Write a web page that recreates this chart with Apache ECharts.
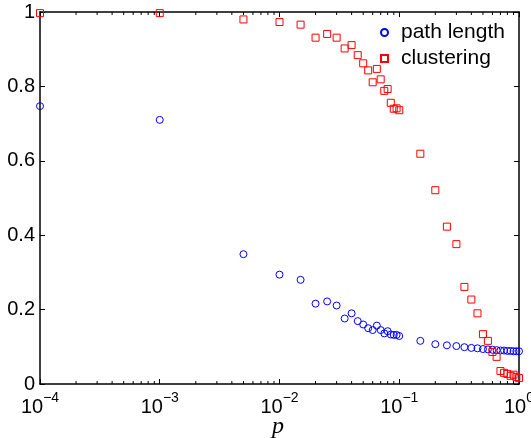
<!DOCTYPE html>
<html>
<head>
<meta charset="utf-8">
<script src="https://cdn.jsdelivr.net/npm/echarts@6/dist/echarts.min.js"></script>
<style>html,body{margin:0;padding:0;background:#fff}#c{width:531px;height:438px}</style>
</head>
<body>
<div id="c"></div>
<script>
var pValues = [0.0001, 0.001, 0.005, 0.01, 0.015, 0.02, 0.025, 0.03, 0.035, 0.04, 0.045, 0.05, 0.055, 0.06, 0.065, 0.07, 0.075, 0.08, 0.085, 0.09, 0.095, 0.1, 0.15, 0.2, 0.25, 0.3, 0.35, 0.4, 0.45, 0.5, 0.55, 0.6, 0.65, 0.7, 0.75, 0.8, 0.85, 0.9, 0.95, 1.0];
var pathLength = [0.747, 0.710, 0.349, 0.294, 0.280, 0.216, 0.222, 0.211, 0.176, 0.190, 0.169, 0.160, 0.150, 0.145, 0.157, 0.145, 0.136, 0.142, 0.133, 0.132, 0.132, 0.129, 0.116, 0.107, 0.104, 0.102, 0.099, 0.097, 0.096, 0.094, 0.093, 0.092, 0.091, 0.090, 0.090, 0.089, 0.089, 0.088, 0.088, 0.088];
var clustering = [0.997, 0.997, 0.980, 0.973, 0.966, 0.931, 0.941, 0.931, 0.902, 0.911, 0.884, 0.862, 0.843, 0.811, 0.847, 0.819, 0.788, 0.793, 0.756, 0.740, 0.741, 0.736, 0.619, 0.521, 0.423, 0.376, 0.261, 0.227, 0.190, 0.134, 0.116, 0.086, 0.073, 0.035, 0.030, 0.027, 0.022, 0.025, 0.019, 0.016];
var yTicks = [0, 0.2, 0.4, 0.6, 0.8, 1];
var seriesNames = ['path length', 'clustering'];
var xAxisTitle = 'p';

var minorX = [];
[-4, -3, -2, -1].forEach(function (e) {
  for (var m = 2; m <= 9; m++) minorX.push(m * Math.pow(10, e));
});

function pairs(xs, ys) { return xs.map(function (x, i) { return [x, ys[i]]; }); }

var FONT = 'Liberation Sans';
function axisCommon() {
  return {
    axisLine: { show: true, onZero: false, lineStyle: { color: '#000', width: 1.5 } },
    axisTick: { show: true, inside: true, length: 5, lineStyle: { color: '#000', width: 1 } },
    splitLine: { show: false }
  };
}

var chart = echarts.init(document.getElementById('c'), null, { renderer: 'canvas' });
chart.setOption({
  animation: false,
  backgroundColor: '#fff',
  grid: { left: 40, right: 12, top: 12, bottom: 54, containLabel: false, outerBoundsMode: 'none' },
  legend: {
    data: [
      { name: seriesNames[0], icon: 'circle' },
      { name: seriesNames[1], icon: 'rect' }
    ],
    orient: 'vertical',
    left: 375,
    top: 17,
    itemWidth: 7,
    itemHeight: 7,
    itemGap: 5,
    textStyle: { fontFamily: FONT, fontSize: 21, color: '#000', lineHeight: 20, padding: [0, 0, 0, 8] }
  },
  graphic: [{
    type: 'text', left: 272, top: 415, silent: true,
    style: { text: xAxisTitle, font: 'italic 24px "Liberation Serif"', fill: '#000' }
  }],
  xAxis: [
    Object.assign({
      type: 'log', logBase: 10, min: 0.0001, max: 1, position: 'bottom',
      axisLabel: {
        show: true, margin: 3, color: '#000',
        formatter: function (v) {
          var e = Math.round(Math.log10(v));
          var s = e < 0 ? '\u2212' + (-e) : String(e);
          return '{b|10}{s|' + s + '}';
        },
        rich: {
          b: { fontFamily: FONT, fontSize: 20, color: '#000', padding: [10, 0, 0, 0] },
          s: { fontFamily: FONT, fontSize: 14, color: '#000', padding: [0, 0, 7, 0] }
        }
      }
    }, axisCommon()),
    Object.assign({
      type: 'log', logBase: 10, min: 0.0001, max: 1, position: 'top',
      axisLabel: { show: false }
    }, axisCommon())
  ],
  yAxis: [
    Object.assign({
      type: 'value', min: 0, max: 1, interval: 0.2, position: 'left',
      axisLabel: {
        show: true, margin: 5, color: '#000', fontFamily: FONT, fontSize: 20,
        formatter: function (v) { return String(Math.round(v * 10) / 10); }
      }
    }, axisCommon()),
    Object.assign({
      type: 'value', min: 0, max: 1, interval: 0.2, position: 'right',
      axisLabel: { show: false }
    }, axisCommon())
  ],
  series: [
    {
      name: 'minor', type: 'custom', xAxisIndex: 0, yAxisIndex: 0, silent: true,
      data: minorX.map(function (x) { return [x]; }),
      clip: false,
      renderItem: function (params, api) {
        var bot = api.coord([api.value(0), 0]);
        var top = api.coord([api.value(0), 1]);
        var st = { stroke: '#000', lineWidth: 1 };
        return {
          type: 'group',
          children: [
            { type: 'line', shape: { x1: bot[0], y1: bot[1], x2: bot[0], y2: bot[1] - 3 }, style: st },
            { type: 'line', shape: { x1: top[0], y1: top[1], x2: top[0], y2: top[1] + 3 }, style: st }
          ]
        };
      }
    },
    {
      name: seriesNames[0], type: 'scatter', xAxisIndex: 0, yAxisIndex: 0, clip: false,
      symbol: 'circle', symbolSize: 7,
      itemStyle: { color: 'rgba(0,0,0,0)', borderColor: '#0000ff', borderWidth: 1, opacity: 1 },
      data: pairs(pValues, pathLength)
    },
    {
      name: seriesNames[1], type: 'scatter', xAxisIndex: 0, yAxisIndex: 0, clip: false,
      symbol: 'rect', symbolSize: 7,
      itemStyle: { color: 'rgba(0,0,0,0)', borderColor: '#ff0000', borderWidth: 1, opacity: 1 },
      data: pairs(pValues, clustering)
    }
  ]
});
</script>
</body>
</html>
